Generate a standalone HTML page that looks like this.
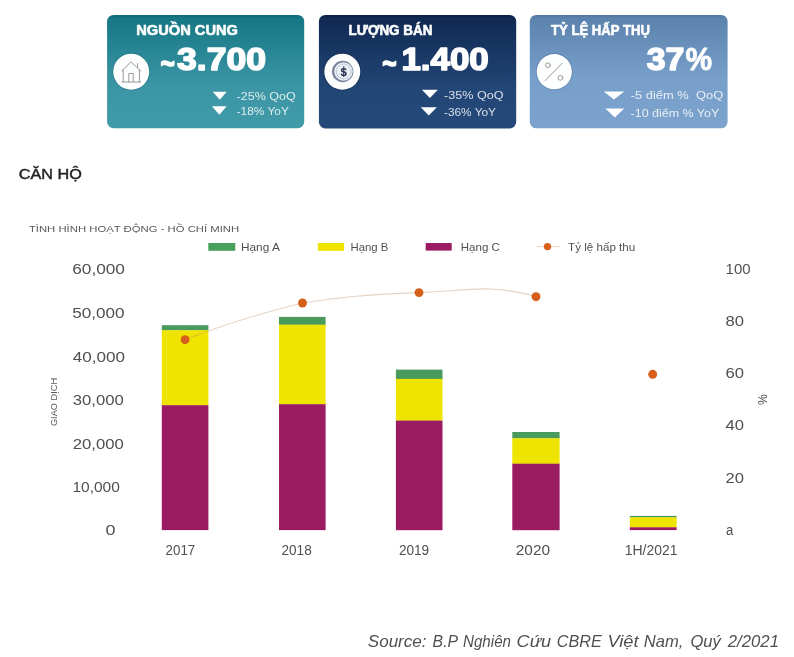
<!DOCTYPE html>
<html lang="vi">
<head>
<meta charset="utf-8">
<title>Căn hộ - Tình hình hoạt động - Hồ Chí Minh</title>
<style>
html,body{margin:0;padding:0;background:#fff;}
body{width:794px;height:657px;overflow:hidden;}
svg{display:block;will-change:transform;}
text{font-family:"Liberation Sans",sans-serif;}
.ax{font-size:14.7px;fill:#505050;}
.xl{font-size:14px;fill:#505050;}
.lg{font-size:11px;fill:#505050;}
.ct{font-size:14.1px;font-weight:bold;fill:#fff;stroke:#fff;stroke-width:.55px;stroke-linejoin:round;}
.cv{font-size:30.6px;font-weight:bold;fill:#fff;stroke:#fff;stroke-width:1.5px;stroke-linejoin:round;}
.cs{font-size:11.8px;fill:#fff;fill-opacity:.82;}
</style>
</head>
<body>
<svg width="794" height="657" viewBox="0 0 794 657">
<defs>
<linearGradient id="g1" x1="0" y1="0" x2="0" y2="1">
<stop offset="0" stop-color="#0f6b79"/><stop offset="0.03" stop-color="#167785"/><stop offset="0.62" stop-color="#3c95a4"/><stop offset="1" stop-color="#409aa8"/>
</linearGradient>
<linearGradient id="g2" x1="0" y1="0" x2="0" y2="1">
<stop offset="0" stop-color="#0a1d45"/><stop offset="0.03" stop-color="#112a54"/><stop offset="0.65" stop-color="#224676"/><stop offset="1" stop-color="#254a7a"/>
</linearGradient>
<linearGradient id="g3" x1="0" y1="0" x2="0" y2="1">
<stop offset="0" stop-color="#52779f"/><stop offset="0.03" stop-color="#5c82ae"/><stop offset="0.55" stop-color="#789fca"/><stop offset="1" stop-color="#7ca3cd"/>
</linearGradient>
</defs>
<rect x="0" y="0" width="794" height="657" fill="#ffffff"/>

<!-- CARD 1 -->
<g id="card1">
<rect x="107.1" y="14.9" width="197.1" height="113.3" rx="6.5" ry="6.5" fill="url(#g1)"/>
<text class="ct" x="136.3" y="34.6" textLength="101.6" lengthAdjust="spacingAndGlyphs">NGUỒN CUNG</text>
<text class="cv" x="160.6" y="73.8" textLength="14.4" lengthAdjust="spacingAndGlyphs">~</text>
<text class="cv" x="177" y="70.3" textLength="89" lengthAdjust="spacingAndGlyphs">3.700</text>
<circle cx="131.2" cy="71.7" r="18" fill="#fdfefe" stroke="#0d5f6c" stroke-opacity=".35" stroke-width="1.6" paint-order="stroke"/>
<g fill="none" stroke="#9a9a9a" stroke-width="1" stroke-linejoin="round" stroke-linecap="round">
<path d="M121.8 70.8 L131 61.8 L140.5 70.8"/>
<path d="M123.2 70 V82 M139.4 70 V82 M122 82 H140.6"/>
<path d="M128.8 82 V73.5 H133.2 V82"/>
<path d="M137.6 67.5 V63.6"/>
</g>
<path d="M212.8 91.8 H226.7 L219.75 99.7 Z" fill="#fff"/>
<path d="M212 106.3 H226.7 L219.35 114.8 Z" fill="#fff"/>
<text class="cs" x="236.6" y="99.6" textLength="59.1" lengthAdjust="spacingAndGlyphs">-25% QoQ</text>
<text class="cs" x="236.6" y="115.4" textLength="52.3" lengthAdjust="spacingAndGlyphs">-18% YoY</text>
</g>

<!-- CARD 2 -->
<g id="card2">
<rect x="318.9" y="14.9" width="197.3" height="113.5" rx="6.5" ry="6.5" fill="url(#g2)"/>
<text class="ct" x="348.5" y="34.5" textLength="84" lengthAdjust="spacingAndGlyphs">LƯỢNG BÁN</text>
<text class="cv" x="382.2" y="73.8" textLength="14.4" lengthAdjust="spacingAndGlyphs">~</text>
<text class="cv" x="401.4" y="70.3" textLength="87.3" lengthAdjust="spacingAndGlyphs">1.400</text>
<circle cx="342.3" cy="71.7" r="18" fill="#fdfdfe" stroke="#0a1c3c" stroke-opacity=".4" stroke-width="1.6" paint-order="stroke"/>
<circle cx="342.7" cy="71.5" r="10.7" fill="#76819c"/>
<circle cx="343.45" cy="71.5" r="9.3" fill="#eceef5"/>
<circle cx="343.7" cy="71.5" r="7.4" fill="none" stroke="#8f99b1" stroke-width="1" stroke-dasharray="1.1 1.2"/>
<text x="343.8" y="75.7" text-anchor="middle" style="font-size:11.5px;font-weight:bold;fill:#27334f;">$</text>
<path d="M343.8 66 V77" stroke="#27334f" stroke-width=".9" fill="none"/>
<path d="M421.9 89.8 H437.9 L429.9 98.1 Z" fill="#fff"/>
<path d="M420.8 107.3 H436.8 L428.8 115.5 Z" fill="#fff"/>
<text class="cs" x="444" y="99" textLength="59.5" lengthAdjust="spacingAndGlyphs">-35% QoQ</text>
<text class="cs" x="444" y="115.7" textLength="52" lengthAdjust="spacingAndGlyphs">-36% YoY</text>
</g>

<!-- CARD 3 -->
<g id="card3">
<rect x="529.8" y="14.9" width="197.8" height="113.4" rx="6.5" ry="6.5" fill="url(#g3)"/>
<text class="ct" x="551" y="34.6" textLength="98.9" lengthAdjust="spacingAndGlyphs">TỶ LỆ HẤP THỤ</text>
<text class="cv" x="646.7" y="70.3" textLength="37.6" lengthAdjust="spacingAndGlyphs">37</text>
<text class="cv" x="685.4" y="70.3" textLength="26.6" lengthAdjust="spacingAndGlyphs" style="stroke-width:.8px;font-size:31.2px;">%</text>
<circle cx="554.3" cy="71.7" r="17.6" fill="#fdfefe" stroke="#3f6190" stroke-opacity=".4" stroke-width="1.6" paint-order="stroke"/>
<g fill="none" stroke="#9a9a9a" stroke-width="1" stroke-linecap="round">
<path d="M562 63.4 L545.2 80.5"/>
<circle cx="547.9" cy="65.3" r="2.4"/>
<circle cx="560.4" cy="77.8" r="2.4"/>
</g>
<path d="M603.7 91.4 H624.2 L613.95 99.6 Z" fill="#fff"/>
<path d="M605.4 108.6 H624.2 L614.8 117.6 Z" fill="#fff"/>
<text class="cs" x="630.8" y="99.4" textLength="92.4" lengthAdjust="spacingAndGlyphs">-5 điểm %&#160; QoQ</text>
<text class="cs" x="630.6" y="117" textLength="88.7" lengthAdjust="spacingAndGlyphs">-10 điểm % YoY</text>
</g>

<!-- HEADINGS -->
<text x="18.8" y="178.6" textLength="63" lengthAdjust="spacingAndGlyphs" style="font-size:15px;fill:#222;stroke:#222;stroke-width:.45px;">CĂN HỘ</text>
<text x="28.9" y="231.6" textLength="210.3" lengthAdjust="spacingAndGlyphs" style="font-size:9.8px;fill:#5a5a5a;">TÌNH HÌNH HOẠT ĐỘNG - HỒ CHÍ MINH</text>

<!-- LEGEND -->
<g id="legend">
<rect x="208.3" y="243" width="27" height="7.8" fill="#47a05c"/>
<text class="lg" x="241" y="251.1" textLength="38.8" lengthAdjust="spacingAndGlyphs">Hạng A</text>
<rect x="317.8" y="243" width="26.3" height="7.8" fill="#efe300"/>
<text class="lg" x="350.5" y="251.1" textLength="37.9" lengthAdjust="spacingAndGlyphs">Hạng B</text>
<rect x="425.7" y="243" width="26" height="7.6" fill="#9a1b62"/>
<text class="lg" x="460.8" y="251.1" textLength="39" lengthAdjust="spacingAndGlyphs">Hạng C</text>
<path d="M536.4 246.6 H559.6" stroke="#e7d8cb" stroke-width="1" fill="none"/>
<circle cx="547.5" cy="246.6" r="3.7" fill="#d9601a"/>
<text class="lg" x="568.1" y="251.1" textLength="67.1" lengthAdjust="spacingAndGlyphs">Tỷ lệ hấp thu</text>
</g>

<!-- LEFT AXIS -->
<g id="yaxis">
<text class="ax" x="72.2" y="274.2" textLength="52.8" lengthAdjust="spacingAndGlyphs">60,000</text>
<text class="ax" x="72.2" y="317.8" textLength="52.4" lengthAdjust="spacingAndGlyphs">50,000</text>
<text class="ax" x="72.7" y="361.5" textLength="52.3" lengthAdjust="spacingAndGlyphs">40,000</text>
<text class="ax" x="72.7" y="404.9" textLength="51.1" lengthAdjust="spacingAndGlyphs">30,000</text>
<text class="ax" x="72.7" y="448.6" textLength="51.1" lengthAdjust="spacingAndGlyphs">20,000</text>
<text class="ax" x="72.4" y="491.5" textLength="47.5" lengthAdjust="spacingAndGlyphs">10,000</text>
<text class="ax" x="105.5" y="535" textLength="10" lengthAdjust="spacingAndGlyphs">0</text>
<text transform="translate(57 426.1) rotate(-90)" textLength="48.3" lengthAdjust="spacingAndGlyphs" style="font-size:9.9px;fill:#5a5a5a;">GIAO DỊCH</text>
</g>

<!-- RIGHT AXIS -->
<g id="y2axis">
<text class="ax" x="725.6" y="274.1" textLength="25.0" lengthAdjust="spacingAndGlyphs">100</text>
<text class="ax" x="725.6" y="326.1" textLength="18.5" lengthAdjust="spacingAndGlyphs">80</text>
<text class="ax" x="725.6" y="378.4" textLength="18.5" lengthAdjust="spacingAndGlyphs">60</text>
<text class="ax" x="725.6" y="430.4" textLength="18.5" lengthAdjust="spacingAndGlyphs">40</text>
<text class="ax" x="725.6" y="482.5" textLength="18.5" lengthAdjust="spacingAndGlyphs">20</text>
<text class="ax" x="726" y="535.3" textLength="7.3" lengthAdjust="spacingAndGlyphs">a</text>
<text transform="translate(767.4 404.9) rotate(-90)" textLength="10.8" lengthAdjust="spacingAndGlyphs" style="font-size:12px;fill:#484848;">%</text>
</g>

<!-- BARS -->
<g id="bars" shape-rendering="auto">
<rect x="161.8" y="325.2" width="46.6" height="5.2" fill="#4a9a5e"/>
<rect x="161.8" y="330.2" width="46.6" height="75.2" fill="#efe300"/>
<rect x="161.8" y="405.2" width="46.6" height="124.9" fill="#9a1b62"/>

<rect x="279" y="316.9" width="46.6" height="8" fill="#4a9a5e"/>
<rect x="279" y="324.7" width="46.6" height="79.7" fill="#efe300"/>
<rect x="279" y="404.2" width="46.6" height="125.9" fill="#9a1b62"/>

<rect x="395.9" y="369.6" width="46.6" height="9.5" fill="#4a9a5e"/>
<rect x="395.9" y="378.9" width="46.6" height="41.9" fill="#efe300"/>
<rect x="395.9" y="420.6" width="46.6" height="109.6" fill="#9a1b62"/>

<rect x="512.3" y="432" width="47.3" height="6.5" fill="#4a9a5e"/>
<rect x="512.3" y="438.3" width="47.3" height="25.6" fill="#efe300"/>
<rect x="512.3" y="463.7" width="47.3" height="66.5" fill="#9a1b62"/>

<rect x="629.8" y="515.9" width="46.8" height="1.6" fill="#4a9a5e"/>
<rect x="629.8" y="517.3" width="46.8" height="10.2" fill="#efe300"/>
<rect x="629.8" y="527.3" width="46.8" height="2.8" fill="#9a1b62"/>
</g>

<!-- LINE + DOTS -->
<g id="line">
<path d="M185.3 339.5 C 224.4 324.4, 263.4 312.6, 302.5 303 C 342 296.5, 380 293.5, 419 292.6 C 450 291.5, 470 288.2, 490 289 C 508 289.8, 522 292.5, 536 296.7" fill="none" stroke="#b98e6a" stroke-opacity=".38" stroke-width="1.1"/>
<circle cx="185.1" cy="339.7" r="4.45" fill="#d65f1b"/>
<circle cx="302.5" cy="303" r="4.45" fill="#d65f1b"/>
<circle cx="419" cy="292.6" r="4.45" fill="#d65f1b"/>
<circle cx="536" cy="296.7" r="4.45" fill="#d65f1b"/>
<circle cx="652.7" cy="374.3" r="4.45" fill="#d65f1b"/>
</g>

<!-- X LABELS -->
<g id="xaxis">
<text class="xl" x="165.6" y="555.3" textLength="29.7" lengthAdjust="spacingAndGlyphs">2017</text>
<text class="xl" x="281.5" y="555.3" textLength="30.2" lengthAdjust="spacingAndGlyphs">2018</text>
<text class="xl" x="398.9" y="555.3" textLength="30.3" lengthAdjust="spacingAndGlyphs">2019</text>
<text class="xl" x="515.8" y="555.3" textLength="34.3" lengthAdjust="spacingAndGlyphs">2020</text>
<text class="xl" x="624.7" y="555.3" textLength="52.8" lengthAdjust="spacingAndGlyphs">1H/2021</text>
</g>

<!-- SOURCE -->
<g id="source" style="font-size:17px;font-style:italic;fill:#505050;">
<text y="647"><tspan x="367.8" textLength="58.7" lengthAdjust="spacingAndGlyphs">Source:</tspan> <tspan x="432.6" textLength="24.9" lengthAdjust="spacingAndGlyphs">B.P</tspan> <tspan x="463" textLength="48" lengthAdjust="spacingAndGlyphs">Nghiên</tspan> <tspan x="516.6" textLength="34.6" lengthAdjust="spacingAndGlyphs">Cứu</tspan> <tspan x="556.7" textLength="45" lengthAdjust="spacingAndGlyphs">CBRE</tspan> <tspan x="607.4" textLength="31.2" lengthAdjust="spacingAndGlyphs">Việt</tspan> <tspan x="643.8" textLength="39.6" lengthAdjust="spacingAndGlyphs">Nam,</tspan> <tspan x="690.4" textLength="30.5" lengthAdjust="spacingAndGlyphs">Quý</tspan> <tspan x="727.8" textLength="51.2" lengthAdjust="spacingAndGlyphs">2/2021</tspan></text>
</g>
</svg>
</body>
</html>
